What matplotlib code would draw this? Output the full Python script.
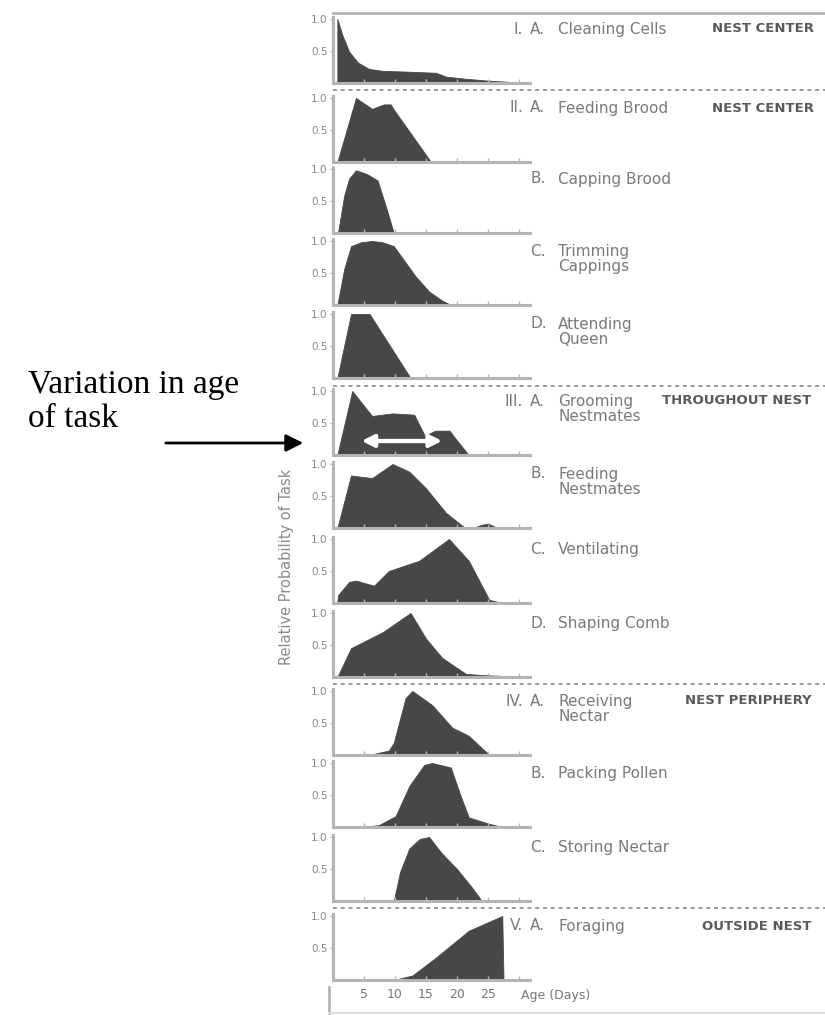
import matplotlib
matplotlib.use('Agg')
import matplotlib.pyplot as plt
from matplotlib.patches import FancyArrowPatch

W, H = 825, 1015

# Age (days) / relative probability of task
x_cleaning = [0.7, 1.5, 2.6, 4.0, 5.8, 8.0, 11.2, 16.6, 18.2, 21.0, 24.6, 28.0, 31.6]
y_cleaning = [1.0, 0.75, 0.49, 0.32, 0.22, 0.19, 0.18, 0.16, 0.10, 0.07, 0.04, 0.02, 0.0]

x_feed_brood = [0.7, 3.7, 6.3, 8.2, 9.3, 9.8, 15.8]
y_feed_brood = [0.0, 1.0, 0.83, 0.9, 0.9, 0.82, 0.0]

x_capping = [0.8, 1.8, 2.6, 3.7, 5.5, 7.2, 8.5, 9.8]
y_capping = [0.0, 0.58, 0.85, 0.98, 0.92, 0.82, 0.42, 0.0]

x_trimming = [0.7, 1.8, 2.9, 4.5, 6.3, 8.0, 9.8, 13.3, 15.5, 17.6, 19.0]
y_trimming = [0.0, 0.56, 0.92, 0.98, 1.0, 0.98, 0.92, 0.45, 0.21, 0.07, 0.0]

x_queen = [0.7, 2.9, 5.9, 12.5]
y_queen = [0.0, 1.0, 1.0, 0.0]

x_grooming = [0.7, 3.1, 6.3, 9.6, 13.1, 14.8, 16.5, 18.8, 19.8, 21.9]
y_grooming = [0.0, 1.0, 0.61, 0.65, 0.63, 0.3, 0.38, 0.38, 0.25, 0.0]

x_feed_nest = [0.7, 2.9, 6.3, 9.6, 12.3, 15.0, 18.2, 20.9, 21.5, 22.5, 24.0, 25.0, 26.5]
y_feed_nest = [0.0, 0.82, 0.78, 1.0, 0.88, 0.62, 0.24, 0.03, 0.0, 0.0, 0.05, 0.07, 0.0]

x_ventilating = [0.7, 0.8, 2.6, 3.7, 6.6, 9.0, 13.9, 18.7, 21.9, 25.2, 27.3]
y_ventilating = [0.0, 0.12, 0.33, 0.35, 0.27, 0.5, 0.66, 1.0, 0.66, 0.05, 0.0]

x_comb = [0.7, 2.9, 8.0, 12.5, 15.0, 17.6, 21.4, 24.0, 26.8, 27.2]
y_comb = [0.0, 0.45, 0.7, 1.0, 0.6, 0.3, 0.05, 0.03, 0.02, 0.0]

x_recv_nectar = [5.8, 9.0, 9.8, 11.7, 12.8, 16.0, 19.2, 21.9, 25.2]
y_recv_nectar = [0.0, 0.07, 0.19, 0.89, 1.0, 0.78, 0.43, 0.3, 0.0]

x_pollen = [4.7, 7.4, 10.1, 12.3, 14.7, 16.0, 19.0, 20.6, 21.9, 25.2, 27.3]
y_pollen = [0.0, 0.03, 0.17, 0.64, 0.97, 1.0, 0.93, 0.48, 0.15, 0.05, 0.0]

x_store_nectar = [9.8, 10.8, 12.3, 14.0, 15.5, 17.5, 20.0, 22.5, 24.0]
y_store_nectar = [0.0, 0.45, 0.82, 0.97, 1.0, 0.75, 0.5, 0.2, 0.0]

x_foraging = [9.8, 12.8, 16.6, 21.9, 27.3, 27.5]
y_foraging = [0.0, 0.07, 0.35, 0.77, 1.0, 0.0]

series = [
    (x_cleaning, y_cleaning), (x_feed_brood, y_feed_brood), (x_capping, y_capping),
    (x_trimming, y_trimming), (x_queen, y_queen), (x_grooming, y_grooming),
    (x_feed_nest, y_feed_nest), (x_ventilating, y_ventilating), (x_comb, y_comb),
    (x_recv_nectar, y_recv_nectar), (x_pollen, y_pollen), (x_store_nectar, y_store_nectar),
    (x_foraging, y_foraging),
]

roman = ['I.', 'II.', '', '', '', 'III.', '', '', '', 'IV.', '', '', 'V.']
letters = ['A.', 'A.', 'B.', 'C.', 'D.', 'A.', 'B.', 'C.', 'D.', 'A.', 'B.', 'C.', 'A.']
tasks = ['Cleaning Cells', 'Feeding Brood', 'Capping Brood', 'Trimming\nCappings',
         'Attending\nQueen', 'Grooming\nNestmates', 'Feeding\nNestmates', 'Ventilating',
         'Shaping Comb', 'Receiving\nNectar', 'Packing Pollen', 'Storing Nectar', 'Foraging']
zones = {0: 'NEST CENTER', 1: 'NEST CENTER', 5: 'THROUGHOUT NEST',
         9: 'NEST PERIPHERY', 12: 'OUTSIDE NEST'}
zone_x = {0: 712, 1: 712, 5: 662, 9: 685, 12: 702}
age_ticks = [5, 10, 15, 20, 25]

# layout in pixels
baselines = [83, 162, 233, 305, 378, 455, 528, 603, 677, 755, 827, 901, 980]
AX_LEFT, AX_RIGHT, AX_H = 333, 530, 64
XMAX = (AX_RIGHT - AX_LEFT) / 6.2
FILL = '#474747'
SPINE = '#b4b4b4'
TXT = '#7a7a7a'
FS = 11


def fx(px):
    return px / W


def fy(py):
    return 1 - py / H


fig = plt.figure(figsize=(W / 100, H / 100), dpi=100)
fig.patch.set_facecolor('white')

for i, (xs, ys) in enumerate(series):
    base = baselines[i]
    ax = fig.add_axes([fx(AX_LEFT), fy(base), (AX_RIGHT - AX_LEFT) / W, AX_H / H])
    ax.fill_between(xs, ys, 0, color=FILL, lw=0.6, edgecolor=FILL)
    ax.set_xlim(0, XMAX)
    ax.set_ylim(0, 1.0)
    for s in ['top', 'right']:
        ax.spines[s].set_visible(False)
    for s in ['left', 'bottom']:
        ax.spines[s].set_color(SPINE)
        ax.spines[s].set_linewidth(2.2)
    ax.spines['left'].set_bounds(0, 1.03)
    ax.set_yticks([0.5, 1.0])
    ax.set_yticklabels(['0.5', '1.0'], fontsize=7.5, color='#8a8a8a')
    ax.set_xticks(age_ticks + [30])
    ax.tick_params(axis='y', length=2, width=1, color=SPINE, pad=2)
    ax.tick_params(axis='x', length=3, width=1, color=SPINE, direction='in')
    if i == len(series) - 1:
        ax.set_xticklabels([str(t) for t in age_ticks] + [''], fontsize=9, color='#777777')
        ax.tick_params(axis='x', pad=6)
    else:
        ax.set_xticklabels([])
    ax.patch.set_alpha(0)

    # panel labels
    ty = base - AX_H + 10
    if roman[i]:
        fig.text(fx(523), fy(ty), roman[i], ha='right', va='center', fontsize=FS, color=TXT)
    fig.text(fx(530), fy(ty), letters[i], ha='left', va='center', fontsize=FS, color=TXT)
    fig.text(fx(558), fy(ty - 7), tasks[i], ha='left', va='top', fontsize=FS,
             color=TXT, linespacing=1.0)
    if i in zones:
        fig.text(fx(zone_x[i]), fy(ty), zones[i], ha='left', va='center', fontsize=9.5,
                 color='#5a5a5a', fontweight='bold')

    if i == 5:
        ax.annotate('', xy=(4.6, 0.22), xytext=(17.6, 0.22),
                    arrowprops=dict(arrowstyle='<|-|>', color='white', lw=3,
                                    mutation_scale=18, shrinkA=0, shrinkB=0))
        ax.plot([7.0, 15.0], [0.22, 0.22], color='#c8c8c8', lw=2.5, solid_capstyle='butt')

# frame lines and group separators
fig.add_artist(plt.Line2D([fx(AX_LEFT), 1], [fy(13), fy(13)], color=SPINE, lw=2))
for sy in [90, 386, 684, 908]:
    fig.add_artist(plt.Line2D([fx(AX_LEFT), 1], [fy(sy), fy(sy)], color='#9a9a9a',
                              lw=1.4, ls=(0, (2, 2))))
fig.add_artist(plt.Line2D([fx(329), fx(329)], [fy(987), fy(1013)], color=SPINE, lw=2))
fig.add_artist(plt.Line2D([fx(329), 1], [fy(1013), fy(1013)], color='#dddddd', lw=1.5))
fig.text(fx(521), fy(996), 'Age (Days)', ha='left', va='center', fontsize=9, color='#777777')

# y label
fig.text(fx(287), fy(665), 'Relative Probability of Task', rotation=90,
         rotation_mode='anchor', ha='left', va='center', fontsize=10.5, color='#8a8a8a')

# annotation on the left
fig.text(fx(28), fy(393), 'Variation in age', ha='left', va='baseline',
         fontsize=24, family='Liberation Serif', color='black')
fig.text(fx(28), fy(427), 'of task', ha='left', va='baseline',
         fontsize=24, family='Liberation Serif', color='black')
fig.add_artist(FancyArrowPatch(
    (fx(163), fy(443)), (fx(306), fy(443)), transform=fig.transFigure,
    arrowstyle='-|>', mutation_scale=26, color='black', lw=2))

fig.savefig('out.png', dpi=100, facecolor='white')
